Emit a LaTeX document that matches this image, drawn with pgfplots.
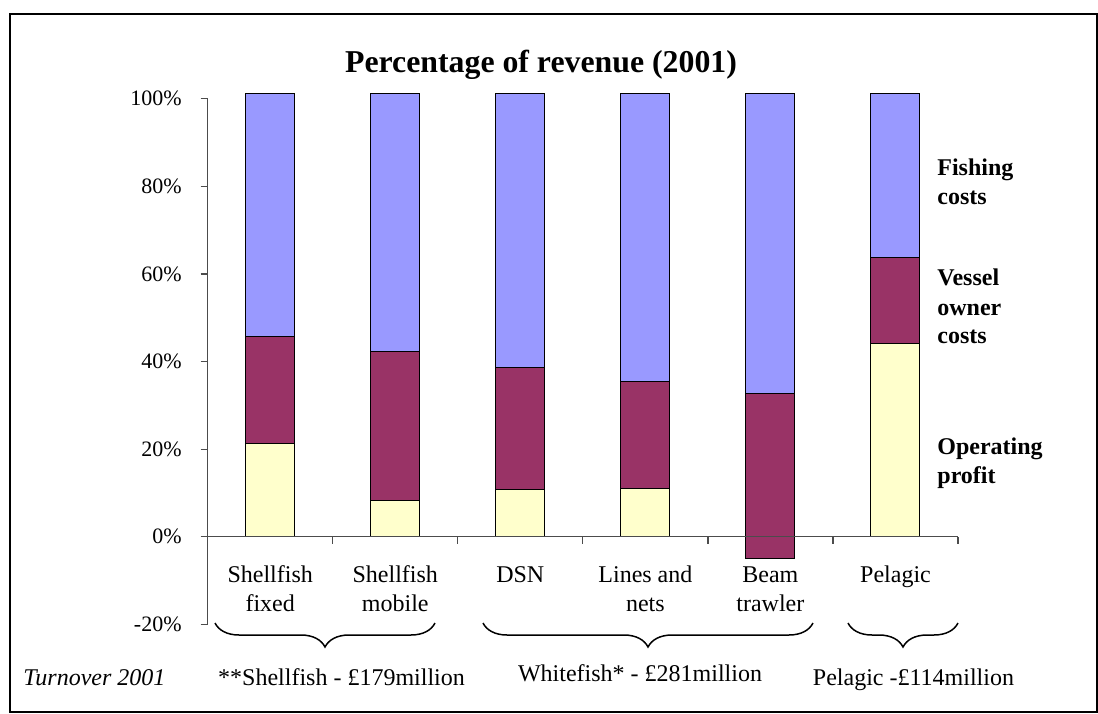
\documentclass[border=0pt]{standalone}
\usepackage{pgfplots}
\pgfplotsset{compat=1.18}
\usepackage{fontspec}
\setmainfont{Liberation Serif}
\usetikzlibrary{decorations.pathreplacing}
\definecolor{fish}{RGB}{153,153,255}
\definecolor{vessel}{RGB}{153,51,102}
\definecolor{profit}{RGB}{255,255,204}
\begin{document}
\begin{tikzpicture}
\useasboundingbox (0pt,0pt) rectangle (549pt,-356.5pt);
\draw[line width=1pt] (4.75pt,-6.75pt) rectangle (548.25pt,-355.75pt);
\begin{axis}[
  at={(103.85pt,-312.15pt)}, anchor=south west, scale only axis,
  width=375.15pt, height=262.8pt,
  xmin=-0.5, xmax=5.5, ymin=-20, ymax=100,
  ybar stacked, bar width=24.5pt,
  axis x line=middle, axis y line=left,
  xtick={0.5,1.5,2.5,3.5,4.5,5.5}, xticklabels={},
  ytick={-20,0,20,40,60,80,100},
  yticklabels={-20\%,0\%,20\%,40\%,60\%,80\%,100\%},
  yticklabel style={font=\fontsize{11}{13}\selectfont, xshift=-6pt},
  tick align=outside, major tick length=3.5pt,
  axis line style={-, black!70, line width=0.6pt},
  tick style={black!70, line width=0.6pt},
  clip=false, axis on top,
]
% negative part of the Beam trawler bar (shown in the vessel colour, as in the original)
\addplot[fill=vessel, draw=black, line width=0.5pt] coordinates {(0,0) (1,0) (2,0) (3,0) (4,-4.9) (5,0)};
% operating profit
\addplot[fill=profit, draw=black, line width=0.5pt] coordinates {(0,21.2) (1,8.2) (2,10.7) (3,10.9) (4,0) (5,44.1)};
% vessel owner costs
\addplot[fill=vessel, draw=black, line width=0.5pt] coordinates {(0,24.5) (1,34.0) (2,27.9) (3,24.6) (4,32.6) (5,19.6)};
% fishing costs
\addplot[fill=fish, draw=black, line width=0.5pt] coordinates {(0,55.6) (1,59.1) (2,62.7) (3,65.8) (4,68.7) (5,37.6)};
\end{axis}
% title
\node[anchor=base, font=\fontsize{15.9}{18}\selectfont\bfseries] at (270.5pt,-36pt) {Percentage of revenue (2001)};
% category labels
\begin{scope}[every node/.style={anchor=base, font=\fontsize{12}{14}\selectfont, inner sep=0pt}]
\node at (135.1pt,-291pt) {Shellfish};
\node at (135.1pt,-305.5pt) {fixed};
\node at (197.65pt,-291pt) {Shellfish};
\node at (197.65pt,-305.5pt) {mobile};
\node at (260.15pt,-291pt) {DSN};
\node at (322.7pt,-291pt) {Lines and};
\node at (322.7pt,-305.5pt) {nets};
\node at (385.2pt,-291pt) {Beam};
\node at (385.2pt,-305.5pt) {trawler};
\node at (447.75pt,-291pt) {Pelagic};
\end{scope}
% right-hand labels
\begin{scope}[every node/.style={anchor=base west, font=\fontsize{12}{14}\selectfont\bfseries, inner sep=0pt}]
\node at (468.5pt,-87.5pt) {Fishing};
\node at (468.5pt,-102pt) {costs};
\node at (468.5pt,-142.8pt) {Vessel};
\node at (468.5pt,-157.5pt) {owner};
\node at (468.5pt,-171.7pt) {costs};
\node at (468.5pt,-227pt) {Operating};
\node at (468.5pt,-241.7pt) {profit};
\end{scope}
% braces
\begin{scope}[line width=0.75pt, decoration={brace, mirror, amplitude=12pt}]
\draw[decorate] (107.5pt,-311.5pt) -- (217.5pt,-311.5pt);
\draw[decorate] (241.5pt,-311.5pt) -- (406.5pt,-311.5pt);
\draw[decorate] (424pt,-311.5pt) -- (479pt,-311.5pt);
\end{scope}
% turnover line
\begin{scope}[every node/.style={anchor=base, font=\fontsize{12}{14}\selectfont, inner sep=0pt}]
\node[anchor=base west] at (11.5pt,-342.5pt) {\itshape Turnover 2001};
\node at (170.75pt,-342.5pt) {**Shellfish - £179million};
\node at (320pt,-340.5pt) {Whitefish* - £281million};
\node at (456.75pt,-342.5pt) {Pelagic -£114million};
\end{scope}
\end{tikzpicture}
\end{document}
